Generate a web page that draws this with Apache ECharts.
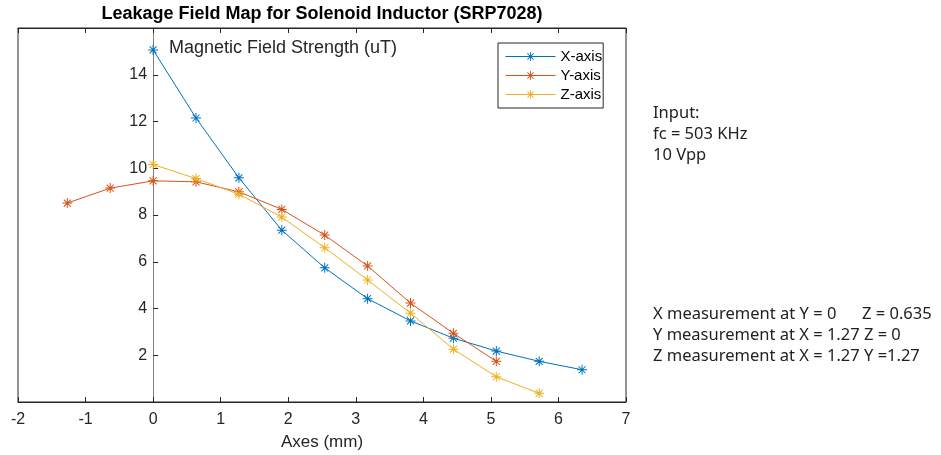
<!DOCTYPE html>
<html>
<head>
<meta charset="utf-8">
<script src="https://cdn.jsdelivr.net/npm/echarts@6/dist/echarts.min.js"></script>
<style>
html,body{margin:0;padding:0;background:#fff;}
#main{width:941px;height:455px;}
</style>
</head>
<body>
<div id="main"></div>
<script>
// ---- data ----
const xTicks = [-2, -1, 0, 1, 2, 3, 4, 5, 6, 7];
const yTicks = [2, 4, 6, 8, 10, 12, 14];
const seriesNames = ['X-axis', 'Y-axis', 'Z-axis'];
const xPosX = [0, 0.635, 1.27, 1.905, 2.54, 3.175, 3.81, 4.445, 5.08, 5.715, 6.35];
const xFieldX = [15.06, 12.15, 9.59, 7.35, 5.74, 4.42, 3.47, 2.73, 2.18, 1.74, 1.38];
const xPosY = [-1.27, -0.635, 0, 0.635, 1.27, 1.905, 2.54, 3.175, 3.81, 4.445, 5.08];
const yFieldY = [8.51, 9.15, 9.46, 9.42, 8.99, 8.24, 7.14, 5.82, 4.23, 2.94, 1.74];
const xPosZ = [0, 0.635, 1.27, 1.905, 2.54, 3.175, 3.81, 4.445, 5.08, 5.715];
const zFieldZ = [10.16, 9.56, 8.89, 7.91, 6.60, 5.22, 3.80, 2.26, 1.08, 0.37];
const noteLines1 = ['Input:', 'fc = 503 KHz', '10 Vpp'];
const noteLines2 = ['X measurement at Y = 0      Z = 0.635', 'Y measurement at X = 1.27 Z = 0', 'Z measurement at X = 1.27 Y =1.27'];

const colors = ['#0072BD', '#D95319', '#EDB120'];
const asterisk = 'path://M45,0 h10 v100 h-10 Z M0,45 h100 v10 h-100 Z M11.5,18.5 L18.5,11.5 L88.5,81.5 L81.5,88.5 Z M81.5,11.5 L88.5,18.5 L18.5,88.5 L11.5,81.5 Z';

function pairs(xs, ys) { return xs.map((x, i) => [x, ys[i]]); }
const dataSets = [pairs(xPosX, xFieldX), pairs(xPosY, yFieldY), pairs(xPosZ, zFieldZ)];

const FONT = '"Liberation Sans", Arial, Helvetica, sans-serif';
const NOTEFONT = '"Noto Sans", sans-serif';
const AX = '#262626';

const GRID_LEFT = 18, GRID_W = 608;
const xMin = xTicks[0], xMax = xTicks[xTicks.length - 1];
// shift y axis so it sits at x = 0
const yOffset = -GRID_W * (0 - xMin) / (xMax - xMin);

const chart = echarts.init(document.getElementById('main'), null, {renderer: 'canvas'});
const option = {
  animation: false,
  backgroundColor: '#fff',
  textStyle: {fontFamily: FONT},
  title: [
    {text: 'Leakage Field Map for Solenoid Inductor (SRP7028)', left: 322, top: 5, padding: 0, textAlign: 'center',
     textStyle: {fontFamily: FONT, fontSize: 18, fontWeight: 'bold', color: '#000'}},
    {text: 'Magnetic Field Strength (uT)', left: 164, top: 34,
     textStyle: {fontFamily: FONT, fontSize: 18, fontWeight: 'normal', color: AX}},
    {text: noteLines1.join('\n'), left: 648, top: 98,
     textStyle: {fontFamily: NOTEFONT, fontSize: 16.5, fontWeight: 'normal', color: '#222', lineHeight: 21}},
    {text: noteLines2.join('\n'), left: 648, top: 299,
     textStyle: {fontFamily: NOTEFONT, fontSize: 16.5, fontWeight: 'normal', color: '#222', lineHeight: 21}}
  ],
  legend: {
    orient: 'vertical', left: 498, top: 43,
    padding: [6, 1, 6, 7], itemGap: 4, itemWidth: 50, itemHeight: 11,
    borderColor: AX, borderWidth: 1, backgroundColor: '#fff',
    lineStyle: {width: 1},
    textStyle: {fontFamily: FONT, fontSize: 15, color: '#000', lineHeight: 15},
    data: seriesNames
  },
  grid: {left: GRID_LEFT, top: 28, width: GRID_W, height: 374, show: true, borderColor: AX, borderWidth: 1,
         backgroundColor: 'transparent', containLabel: false, outerBoundsMode: 'none'},
  xAxis: [
    {type: 'value', min: xMin, max: xMax, interval: 1, position: 'bottom',
     axisLine: {onZero: false, lineStyle: {color: AX, width: 1}},
     axisTick: {inside: true, length: 5, lineStyle: {color: AX}},
     axisLabel: {fontFamily: FONT, fontSize: 16, color: AX, margin: 10},
     splitLine: {show: false},
     name: 'Axes (mm)', nameLocation: 'middle', nameGap: 32,
     nameTextStyle: {fontFamily: FONT, fontSize: 17, color: AX}},
    {type: 'value', min: xMin, max: xMax, interval: 1, position: 'top',
     axisLine: {onZero: false, lineStyle: {color: AX, width: 1}},
     axisTick: {inside: true, length: 5, lineStyle: {color: AX}},
     axisLabel: {show: false}, splitLine: {show: false}}
  ],
  yAxis: [
    {type: 'value', min: 0, max: 16, interval: 2, position: 'left', offset: yOffset,
     axisLine: {show: true, onZero: false, lineStyle: {color: '#808080', width: 1}},
     axisTick: {inside: true, length: 5, lineStyle: {color: AX}},
     axisLabel: {fontFamily: FONT, fontSize: 16, color: AX, margin: 6,
       formatter: v => (yTicks.indexOf(v) >= 0 ? String(v) : '')},
     splitLine: {show: false}}
  ],
  series: seriesNames.map((name, i) => ({
    name: name, type: 'line', xAxisIndex: 0, yAxisIndex: 0,
    data: dataSets[i], color: colors[i],
    symbol: asterisk, symbolSize: 10, showAllSymbol: true,
    lineStyle: {width: 1, color: colors[i]},
    itemStyle: {color: colors[i]},
    z: 3 + i
  }))
};
chart.setOption(option);
</script>
</body>
</html>
